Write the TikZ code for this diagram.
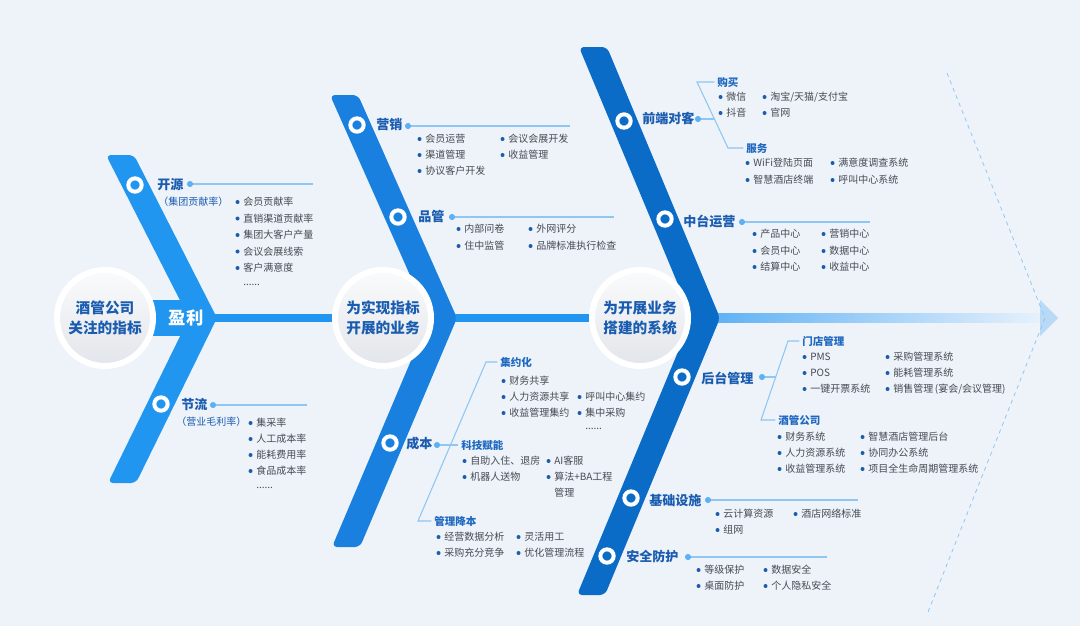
\documentclass[tikz,border=0pt]{standalone}
\usepackage{fontspec}
\setmainfont{Noto Sans CJK SC}
\usetikzlibrary{positioning, calc, shadows, backgrounds}
\definecolor{fbBg}{HTML}{EEF3FA}
\definecolor{fbOne}{HTML}{2196F0}
\definecolor{fbTwo}{HTML}{1A80E0}
\definecolor{fbThree}{HTML}{0B6CC8}
\definecolor{fbTitle}{HTML}{1A5CB0}
\definecolor{fbSub}{HTML}{1F68C0}
\definecolor{fbText}{HTML}{464B53}
\definecolor{fbDot}{HTML}{1A5CB0}
\definecolor{fbLine}{HTML}{8FC6F2}
\definecolor{fbHubTop}{HTML}{FAFBFC}
\definecolor{fbHubBot}{HTML}{E2E5EA}
\definecolor{fbSpine}{HTML}{5CB0F4}
\definecolor{fbFade}{HTML}{E6F1FC}
\definecolor{fbArrow}{HTML}{B9DAF7}
\newcommand{\hubfont}{\fontsize{11}{14.5}\selectfont\bfseries}
\newcommand{\headfont}{\fontsize{9.8}{12}\selectfont\bfseries}
\newcommand{\subfont}{\fontsize{7.9}{10}\selectfont\bfseries}
\newcommand{\itemfont}{\fontsize{7.5}{9}\selectfont}
\tikzset{
  hub/.style={
    circle, minimum size=72pt, inner sep=0pt, draw=white, line width=4.5pt,
    top color=fbHubTop, bottom color=fbHubBot,
    drop shadow={shadow xshift=0.8pt, shadow yshift=-1.8pt, opacity=0.24},
    font=\hubfont, text=fbTitle, align=center
  },
  ring/.style={circle, draw=white, line width=3pt, minimum size=10pt, inner sep=0pt},
  head/.style={anchor=west, inner sep=0pt, font=\headfont, text=fbTitle},
  subhead/.style={anchor=west, inner sep=0pt, font=\subfont, text=fbSub},
  note/.style={anchor=west, inner sep=0pt, font=\itemfont, text=fbTitle},
  plain/.style={anchor=west, inner sep=0pt, font=\itemfont, text=fbText},
  item/.style={plain, label={[itemdot, xshift=-2.4pt]left:{}}},
  itemdot/.style={circle, fill=fbDot, inner sep=0pt, minimum size=3pt},
  hdot/.style={circle, fill=fbSpine, inner sep=0pt, minimum size=4.6pt},
  branch/.style={fbLine, line width=0.8pt},
  spine/.style={fbOne, line width=6pt},
  guide/.style={dashed, fbLine, line width=0.6pt},
  profit/.style={inner sep=0pt, font=\fontsize{13}{15}\selectfont\bfseries, text=white}
}
\begin{document}
\begin{tikzpicture}[x=0.75pt, y=-0.75pt]
  \useasboundingbox (0,0) rectangle (1080,626);

  % the three hubs
  \node[hub] (hub1) at (105,318) {酒管公司\\关注的指标};
  \node[hub] (hub2) at (383,318) {为实现指标\\开展的业务};
  \node[hub] (hub3) at (640,318) {为开展业务\\搭建的系统};
  \coordinate (tip1) at (200,318);
  \coordinate (tail) at (1040,318);

  \begin{scope}[on background layer]
    \fill[fbBg] (0,0) rectangle (1080,626);
    \draw[spine] (hub1.center) -- (hub2.center);
    \draw[spine] (hub2.center) -- (hub3.center);
    \shade[left color=fbSpine, right color=fbFade] ($(hub3.center)+(66,-4.5)$) rectangle ($(tail)+(0,4.5)$);
    \fill[fbArrow] (tail) ++(0,-18) -- ++(18,18) -- ++(-18,18) -- cycle;
    \draw[guide] (947,73) -- (1045,318) -- (928,612);
    \draw[fbOne, line width=27pt] (hub1.center) -- (tip1);
    \fill[fbOne, rounded corners=4pt] (106,155) -- (134,155) -- (217,318) -- (136,483) -- (108,483) -- (189,318) -- cycle;
    \fill[fbTwo, rounded corners=4pt] (330,95) -- (358,95) -- (457,318) -- (360,547) -- (332,547) -- (429,318) -- cycle;
    \fill[fbThree, rounded corners=4pt] (579,47) -- (607,47) -- (720,318) -- (605,595) -- (577,595) -- (692,318) -- cycle;
  \end{scope}

  \node[profit] (yingli) at (186,318) {盈利};

  % markers
  \node[ring] (m-kaiyuan) at (135,185) {};
  \node[ring] (m-jieliu) at (161,404) {};
  \node[ring] (m-yingxiao) at (357,125) {};
  \node[ring] (m-pinguan) at (398,217) {};
  \node[ring] (m-chengben) at (390,443) {};
  \node[ring] (m-qianduan) at (624,121) {};
  \node[ring] (m-zhongtai) at (665,219) {};
  \node[ring] (m-houtai) at (682,377) {};
  \node[ring] (m-jichu) at (631,498) {};
  \node[ring] (m-anquan) at (607,556) {};

  % 开源
  \node[head] (kaiyuan) at (157,185) {开源};
  \node[note] (kaiyuan-n) at (158,202) {（集团贡献率）};
  \node[hdot] (kaiyuan-d) at (190,184) {};
  \coordinate (kaiyuan-e) at (313,184);
  \draw[branch] (kaiyuan-d) -- (kaiyuan-e);
  \node[item] (kaiyuan-1) at (243,202) {会员贡献率};
  \node[item] (kaiyuan-2) at (243,218.5) {直销渠道贡献率};
  \node[item] (kaiyuan-3) at (243,235) {集团大客户产量};
  \node[item] (kaiyuan-4) at (243,251.5) {会议会展线索};
  \node[item] (kaiyuan-5) at (243,268) {客户满意度};
  \node[plain] (kaiyuan-6) at (243,285) {......};

  % 节流
  \node[head] (jieliu) at (181,404) {节流};
  \node[note] (jieliu-n) at (176,422) {（营业毛利率）};
  \node[hdot] (jieliu-d) at (213,405) {};
  \coordinate (jieliu-e) at (307,405);
  \draw[branch] (jieliu-d) -- (jieliu-e);
  \node[item] (jieliu-1) at (256,423) {集采率};
  \node[item] (jieliu-2) at (256,439) {人工成本率};
  \node[item] (jieliu-3) at (256,455) {能耗费用率};
  \node[item] (jieliu-4) at (256,471) {食品成本率};
  \node[plain] (jieliu-5) at (256,488) {......};

  % 营销
  \node[head] (yingxiao) at (376,125) {营销};
  \node[hdot] (yingxiao-d) at (408,126) {};
  \coordinate (yingxiao-e) at (570,126);
  \draw[branch] (yingxiao-d) -- (yingxiao-e);
  \node[item] (yingxiao-1) at (425,139) {会员运营};
  \node[item] (yingxiao-2) at (425,155) {渠道管理};
  \node[item] (yingxiao-3) at (425,171) {协议客户开发};
  \node[item] (yingxiao-4) at (508,139) {会议会展开发};
  \node[item] (yingxiao-5) at (508,155) {收益管理};

  % 品管
  \node[head] (pinguan) at (418,216) {品管};
  \node[hdot] (pinguan-d) at (452,217) {};
  \coordinate (pinguan-e) at (614,217);
  \draw[branch] (pinguan-d) -- (pinguan-e);
  \node[item] (pinguan-1) at (464,229) {内部问卷};
  \node[item] (pinguan-2) at (464,246) {住中监管};
  \node[item] (pinguan-3) at (536,229) {外网评分};
  \node[item] (pinguan-4) at (536,246) {品牌标准执行检查};

  % 成本
  \node[head] (chengben) at (406,444) {成本};
  \node[hdot] (chengben-d) at (437,445) {};
  \node[subhead] (jiyue) at (500,362) {集约化};
  \node[subhead] (keji) at (461,445) {科技赋能};
  \node[subhead] (jiangben) at (434,521) {管理降本};
  \coordinate (cb-top) at (486,362);
  \coordinate (cb-bot) at (418,521);
  \draw[branch] ([xshift=-2pt]jiyue.west) -- (cb-top) -- (cb-bot) -- ([xshift=-2pt]jiangben.west);
  \draw[branch] (chengben-d) -- ([xshift=-2pt]keji.west);
  \node[item] (jiyue-1) at (509,381) {财务共享};
  \node[item] (jiyue-2) at (509,397) {人力资源共享};
  \node[item] (jiyue-3) at (509,413) {收益管理集约};
  \node[item] (jiyue-4) at (585,397) {呼叫中心集约};
  \node[item] (jiyue-5) at (585,413) {集中采购};
  \node[plain] (jiyue-6) at (585,429) {......};
  \node[item] (keji-1) at (470,461) {自助入住、退房};
  \node[item] (keji-2) at (470,477) {机器人送物};
  \node[item] (keji-3) at (554,461) {AI客服};
  \node[item] (keji-4) at (554,477) {算法+BA工程};
  \node[plain] (keji-5) at (554,493) {管理};
  \node[item] (jiangben-1) at (444,537) {经营数据分析};
  \node[item] (jiangben-2) at (444,553) {采购充分竞争};
  \node[item] (jiangben-3) at (524,537) {灵活用工};
  \node[item] (jiangben-4) at (524,553) {优化管理流程};

  % 前端对客
  \node[head] (qianduan) at (642,118) {前端对客};
  \node[hdot] (qianduan-d) at (698,119) {};
  \node[subhead] (goumai) at (717,82) {购买};
  \node[subhead] (fuwu) at (746,148) {服务};
  \coordinate (qd-top) at (697,82);
  \coordinate (qd-bot) at (728,148);
  \coordinate (qd-mid) at (714.4,119);
  \draw[branch] ([xshift=-2pt]goumai.west) -- (qd-top) -- (qd-bot) -- ([xshift=-2pt]fuwu.west);
  \draw[branch] (qianduan-d) -- (qd-mid);
  \node[item] (goumai-1) at (726,97) {微信};
  \node[item] (goumai-2) at (726,113) {抖音};
  \node[item] (goumai-3) at (770,97) {淘宝/天猫/支付宝};
  \node[item] (goumai-4) at (770,113) {官网};
  \node[item] (fuwu-1) at (753,163) {WiFi登陆页面};
  \node[item] (fuwu-2) at (753,180) {智慧酒店终端};
  \node[item] (fuwu-3) at (838,163) {满意度调查系统};
  \node[item] (fuwu-4) at (838,180) {呼叫中心系统};

  % 中台运营
  \node[head] (zhongtai) at (683,221) {中台运营};
  \node[hdot] (zhongtai-d) at (742,222) {};
  \coordinate (zhongtai-e) at (870,222);
  \draw[branch] (zhongtai-d) -- (zhongtai-e);
  \node[item] (zhongtai-1) at (760,234) {产品中心};
  \node[item] (zhongtai-2) at (760,251) {会员中心};
  \node[item] (zhongtai-3) at (760,267) {结算中心};
  \node[item] (zhongtai-4) at (829,234) {营销中心};
  \node[item] (zhongtai-5) at (829,251) {数据中心};
  \node[item] (zhongtai-6) at (829,267) {收益中心};

  % 后台管理
  \node[head] (houtai) at (701,378) {后台管理};
  \node[hdot] (houtai-d) at (762,377) {};
  \node[subhead] (mendian) at (802,341) {门店管理};
  \node[subhead] (jiuguan) at (778,420) {酒管公司};
  \coordinate (ht-top) at (788,341);
  \coordinate (ht-bot) at (761,420);
  \coordinate (ht-mid) at (775.7,377);
  \draw[branch] ([xshift=-2pt]mendian.west) -- (ht-top) -- (ht-bot) -- ([xshift=-2pt]jiuguan.west);
  \draw[branch] (houtai-d) -- (ht-mid);
  \node[item] (mendian-1) at (810,357) {PMS};
  \node[item] (mendian-2) at (810,373) {POS};
  \node[item] (mendian-3) at (810,389) {一键开票系统};
  \node[item] (mendian-4) at (893,357) {采购管理系统};
  \node[item] (mendian-5) at (893,373) {能耗管理系统};
  \node[item] (mendian-6) at (893,389) {销售管理\,(宴会/会议管理)};
  \node[item] (jiuguan-1) at (785,437) {财务系统};
  \node[item] (jiuguan-2) at (785,453) {人力资源系统};
  \node[item] (jiuguan-3) at (785,469) {收益管理系统};
  \node[item] (jiuguan-4) at (868,437) {智慧酒店管理后台};
  \node[item] (jiuguan-5) at (868,453) {协同办公系统};
  \node[item] (jiuguan-6) at (868,469) {项目全生命周期管理系统};

  % 基础设施
  \node[head] (jichu) at (649,500) {基础设施};
  \node[hdot] (jichu-d) at (708,500) {};
  \coordinate (jichu-e) at (858,500);
  \draw[branch] (jichu-d) -- (jichu-e);
  \node[item] (jichu-1) at (723,514) {云计算资源};
  \node[item] (jichu-2) at (723,530) {组网};
  \node[item] (jichu-3) at (801,514) {酒店网络标准};

  % 安全防护
  \node[head] (anquan) at (626,557) {安全防护};
  \node[hdot] (anquan-d) at (688,557) {};
  \coordinate (anquan-e) at (827,557);
  \draw[branch] (anquan-d) -- (anquan-e);
  \node[item] (anquan-1) at (704,570) {等级保护};
  \node[item] (anquan-2) at (704,586) {桌面防护};
  \node[item] (anquan-3) at (771,570) {数据安全};
  \node[item] (anquan-4) at (771,586) {个人隐私安全};
\end{tikzpicture}
\end{document}
